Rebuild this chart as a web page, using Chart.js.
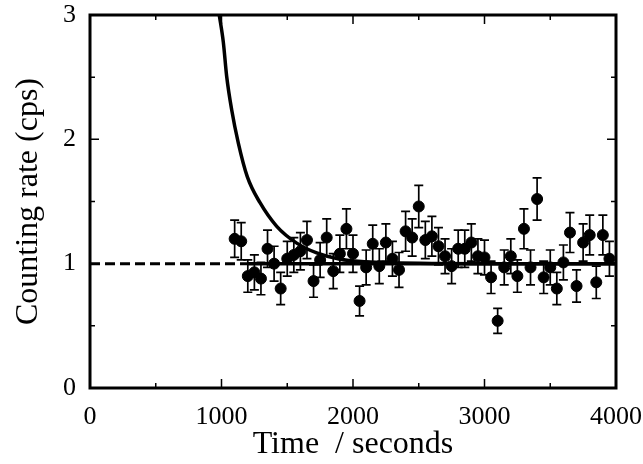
<!DOCTYPE html>
<html>
<head>
<meta charset="utf-8">
<script src="https://cdn.jsdelivr.net/npm/chart.js@4/dist/chart.umd.min.js"></script>
<style>
  html, body { margin: 0; padding: 0; background: #fff; }
  #wrap { width: 643px; height: 464px; }
</style>
</head>
<body>
<div id="wrap"><canvas id="chart" width="643" height="464"></canvas></div>
<script>
// measured points (time in s, counting rate in cps, error)
const times = [1100, 1150, 1200, 1250, 1300, 1350, 1400, 1450, 1500, 1550,
               1600, 1650, 1700, 1750, 1800, 1850, 1900, 1950, 2000, 2050,
               2100, 2150, 2200, 2250, 2300, 2350, 2400, 2450, 2500, 2550,
               2600, 2650, 2700, 2750, 2800, 2850, 2900, 2950, 3000, 3050,
               3100, 3150, 3200, 3250, 3300, 3350, 3400, 3450, 3500, 3550,
               3600, 3650, 3700, 3750, 3800, 3850, 3900, 3950];
const rates = [1.20, 1.18, 0.90, 0.93, 0.88, 1.12, 1.00, 0.80, 1.04, 1.07,
               1.10, 1.19, 0.86, 1.03, 1.21, 0.94, 1.08, 1.28, 1.08, 0.70,
               0.97, 1.16, 0.98, 1.17, 1.04, 0.95, 1.26, 1.21, 1.46, 1.19,
               1.22, 1.14, 1.06, 0.98, 1.12, 1.12, 1.17, 1.06, 1.05, 0.89,
               0.54, 0.97, 1.06, 0.90, 1.28, 0.97, 1.52, 0.89, 0.97, 0.80,
               1.01, 1.25, 0.82, 1.17, 1.23, 0.85, 1.23, 1.04];
const errors = [0.15, 0.15, 0.13, 0.14, 0.13, 0.15, 0.14, 0.13, 0.14, 0.14,
                0.15, 0.15, 0.13, 0.14, 0.15, 0.14, 0.15, 0.16, 0.15, 0.12,
                0.14, 0.15, 0.14, 0.15, 0.14, 0.14, 0.16, 0.15, 0.17, 0.15,
                0.16, 0.15, 0.14, 0.14, 0.15, 0.15, 0.15, 0.14, 0.14, 0.13,
                0.10, 0.14, 0.14, 0.13, 0.16, 0.14, 0.17, 0.13, 0.14, 0.13,
                0.14, 0.16, 0.13, 0.15, 0.16, 0.13, 0.16, 0.14];

// decay curve
const curveT = [983, 1014, 1039, 1077, 1128, 1196, 1293, 1420, 1572, 1724, 1901, 2100, 2300, 2600, 3000, 4000];
const curveY = [3.00, 2.78, 2.51, 2.24, 1.97, 1.70, 1.49, 1.30, 1.165, 1.086, 1.035, 1.015, 1.007, 1.002, 1.0, 1.0];

// background level
const dashedT = [0, 1200];
const solidT = [1200, 4000];
const level = 1;

const xTicks = [0, 1000, 2000, 3000, 4000];
const xMinor = [500, 1500, 2500, 3500];
const yTicks = [0, 1, 2, 3];
const yMinor = [0.5, 1.5, 2.5];

const serif = 'Liberation Serif, Times New Roman, serif';

const frameAndBars = {
  id: 'frameAndBars',
  afterDatasetsDraw(chart) {
    const ctx = chart.ctx;
    const xs = chart.scales.x, ys = chart.scales.y;
    const a = chart.chartArea;
    ctx.save();
    ctx.strokeStyle = '#000';

    // error bars
    ctx.lineWidth = 1.7;
    times.forEach((t, i) => {
      const px = xs.getPixelForValue(t);
      const top = ys.getPixelForValue(rates[i] + errors[i]);
      const bot = ys.getPixelForValue(rates[i] - errors[i]);
      ctx.beginPath();
      ctx.moveTo(px, top); ctx.lineTo(px, bot);
      ctx.moveTo(px - 4.5, top); ctx.lineTo(px + 4.5, top);
      ctx.moveTo(px - 4.5, bot); ctx.lineTo(px + 4.5, bot);
      ctx.stroke();
    });

    // inside ticks on all four sides
    ctx.lineWidth = 1.5;
    const tickX = (v, len) => {
      const px = xs.getPixelForValue(v);
      ctx.beginPath();
      ctx.moveTo(px, a.bottom); ctx.lineTo(px, a.bottom - len);
      ctx.moveTo(px, a.top); ctx.lineTo(px, a.top + len);
      ctx.stroke();
    };
    const tickY = (v, len) => {
      const py = ys.getPixelForValue(v);
      ctx.beginPath();
      ctx.moveTo(a.left, py); ctx.lineTo(a.left + len, py);
      ctx.moveTo(a.right, py); ctx.lineTo(a.right - len, py);
      ctx.stroke();
    };
    xTicks.forEach(v => tickX(v, 9));
    xMinor.forEach(v => tickX(v, 5));
    yTicks.forEach(v => tickY(v, 9));
    yMinor.forEach(v => tickY(v, 5));

    // frame
    ctx.lineWidth = 3;
    ctx.strokeRect(a.left, a.top, a.right - a.left, a.bottom - a.top);
    ctx.restore();
  }
};

new Chart(document.getElementById('chart'), {
  type: 'scatter',
  data: {
    datasets: [
      {
        label: 'level (dashed)',
        type: 'line',
        data: dashedT.map(t => ({ x: t, y: level })),
        borderColor: '#000',
        borderWidth: 3,
        borderDash: [10, 5],
        pointRadius: 0,
        fill: false
      },
      {
        label: 'level',
        type: 'line',
        data: solidT.map(t => ({ x: t, y: level })),
        borderColor: '#000',
        borderWidth: 3.5,
        pointRadius: 0,
        fill: false
      },
      {
        label: 'fit',
        type: 'line',
        data: curveT.map((t, i) => ({ x: t, y: curveY[i] })),
        borderColor: '#000',
        borderWidth: 3.5,
        pointRadius: 0,
        cubicInterpolationMode: 'monotone',
        fill: false
      },
      {
        label: 'data',
        data: times.map((t, i) => ({ x: t, y: rates[i] })),
        backgroundColor: '#000',
        borderColor: '#000',
        pointRadius: 5.5,
        pointHoverRadius: 5.5
      }
    ]
  },
  options: {
    responsive: false,
    animation: false,
    events: [],
    layout: { padding: { left: 0, right: 27, top: 15, bottom: 0 } },
    plugins: { legend: { display: false }, tooltip: { enabled: false } },
    scales: {
      x: {
        type: 'linear',
        min: 0, max: 4000,
        afterFit: s => { s.height = 76; s.paddingLeft = 0; s.paddingRight = 0; },
        afterBuildTicks: s => { s.ticks = xTicks.map(v => ({ value: v })); },
        grid: { display: false },
        border: { display: false },
        ticks: { color: '#000', padding: 6, font: { family: serif, size: 26 }, callback: v => String(v) },
        title: {
          display: true,
          text: 'Time  / seconds',
          color: '#000',
          font: { family: serif, size: 32 },
          padding: { top: 0, bottom: 0 }
        }
      },
      y: {
        type: 'linear',
        min: 0, max: 3,
        afterFit: s => { s.width = 90; s.paddingTop = 0; s.paddingBottom = 0; },
        afterBuildTicks: s => { s.ticks = yTicks.map(v => ({ value: v })); },
        grid: { display: false },
        border: { display: false },
        ticks: { color: '#000', padding: 6, font: { family: serif, size: 26 }, callback: v => String(v) },
        title: {
          display: true,
          text: 'Counting rate (cps)',
          color: '#000',
          font: { family: serif, size: 32 },
          padding: { top: 9, bottom: 0 }
        }
      }
    }
  },
  plugins: [frameAndBars]
});
</script>
</body>
</html>
